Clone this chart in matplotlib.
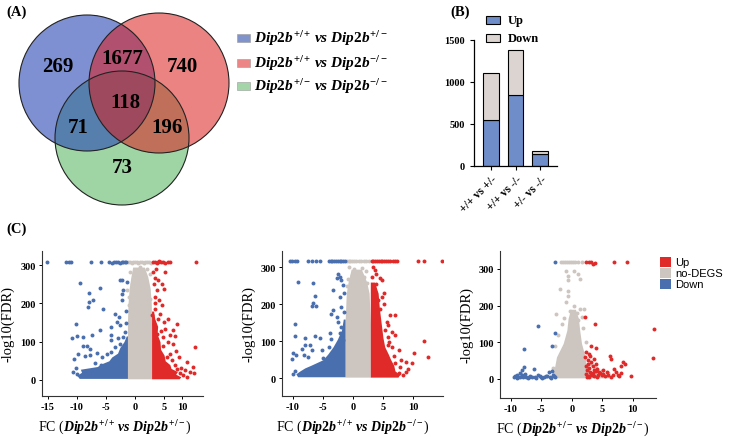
import matplotlib
matplotlib.use("Agg")
import matplotlib.pyplot as plt
from matplotlib.patches import Circle, Rectangle

plt.rcParams['font.family'] = ['Liberation Serif', 'DejaVu Serif']
plt.rcParams['font.weight'] = 'bold'
plt.rcParams['mathtext.fontset'] = 'custom'
plt.rcParams['mathtext.rm'] = 'Liberation Serif:weight=bold'
plt.rcParams['mathtext.bf'] = 'Liberation Serif:weight=bold'
plt.rcParams['mathtext.it'] = 'Liberation Serif:style=italic:weight=bold'

W, H = 731, 439

# ---- (A) Venn counts ----
venn_counts = {'269': (58, 67), '1677': (122, 59), '740': (182, 67), '118': (125, 103),
               '71': (78, 128), '196': (167, 128), '73': (122, 168)}
venn_labels = [r'$\mathit{Dip2b}^{+/+}\,\mathit{vs}\ \mathit{Dip2b}^{+/-}$',
               r'$\mathit{Dip2b}^{+/+}\,\mathit{vs}\ \mathit{Dip2b}^{-/-}$',
               r'$\mathit{Dip2b}^{+/-}\,\mathit{vs}\ \mathit{Dip2b}^{-/-}$']

# ---- (B) DEG counts ----
bar_cats = ['+/+ vs +/-', '+/+ vs -/-', '+/- vs -/-']
bar_up = [550, 840, 140]
bar_down = [560, 540, 40]

# ---- (C) volcano data: dense envelopes + sparse points ----
# plot 1
g1_y = [3, 150, 200, 240, 270, 295]
g1_l = [-1.3, -1.3, -1.2, -1.0, -0.7, -0.4]
g1_r = [2.85, 2.85, 2.8, 2.6, 2.2, 1.6]
u1_env_y = [3, 8, 15, 22, 30, 40, 50, 65, 80, 100, 120, 140, 160, 180]
u1_env_r = [7.6, 7.9, 7.0, 7.3, 6.2, 6.0, 5.2, 5.0, 4.4, 4.3, 3.8, 3.9, 3.4, 3.2]
d1_env_y = [4, 12, 20, 28, 35, 42, 50, 60, 70, 85, 100, 115]
d1_env_l = [-9.6, -10.0, -9.2, -9.4, -6.5, -5.8, -4.5, -4.0, -3.0, -2.6, -1.9, -1.5]
up1_x = [3.1, 3.4, 3.7, 3.9, 4.2, 4.5, 4.8, 5.2, 5.6, 6.0, 10.5,
         3.1, 5.2, 3.4, 4.0, 4.6, 5.0, 3.7, 3.4, 4.1, 4.6, 3.4, 4.3, 4.0, 5.0, 5.7, 7.2, 6.6, 5.2,
         6.0, 6.8, 4.9, 10.3, 6.6, 6.0, 5.5, 6.3, 8.9, 10.0, 8.6, 9.5, 10.2, 7.8, 8.0, 3.2, 3.5,
         3.3, 4.4, 5.6, 4.8, 7.0, 7.5, 6.8, 8.3, 9.0, 7.2, 3.8, 3.0, 3.6]
up1_y = [307, 308, 306, 309, 310, 307, 308, 306, 307, 308, 308,
         281, 281, 267, 260, 251, 238, 234, 217, 208, 195, 186, 173, 160, 152, 160, 147, 130, 134,
         117, 114, 112, 86, 95, 69, 60, 51, 47, 34, 25, 21, 17, 17, 30, 250, 200,
         145, 128, 100, 88, 75, 60, 40, 12, 8, 28, 120, 170, 290]
grey1_x = [-1.2, -0.9, -0.6, -0.3, 0.0, 0.3, 0.6, 0.9, 1.2, 1.5, 1.8, 2.1, 2.4, 2.7,
           -0.9, 0.0, 0.9, 2.0, 2.6, -0.6, 0.6, 1.4, 2.3, -1.0, -0.2, 1.1, 2.0, 0.9, 1.7, -0.3,
           -1.3, 0.3, 1.5, -0.7, 2.5, -1.1, 0.5, 1.9]
grey1_y = [307, 308, 306, 308, 307, 309, 306, 308, 307, 306, 308, 307, 309, 306,
           281, 285, 268, 290, 277, 251, 243, 256, 234, 217, 204, 217, 199, 295, 260, 264,
           234, 225, 191, 173, 212, 195, 272, 245]
down1_x = [-15.2, -11.8, -11.4, -11.0, -7.6, -5.9, -4.4, -4.0, -3.6, -3.2, -2.9, -2.6, -2.3, -2.0, -1.7, -1.5,
           -9.5, -7.9, -6.0, -7.9, -7.2, -8.0, -5.5, -2.6, -2.2, -1.4, -2.3, -2.3, -3.4, -2.8, -3.1, -2.6,
           -10.1, -6.0, -4.2, -10.9, -9.9, -9.0, -7.4, -4.2, -4.1, -8.9, -8.2, -7.7, -9.8, -10.5, -8.6,
           -7.7, -6.6, -5.6, -4.9, -4.2, -3.4, -2.6, -2.0, -1.7, -10.2, -10.6, -9.9, -6.8, -5.8, -3.0,
           -1.6, -1.5, -2.0]
down1_y = [307, 308, 308, 307, 308, 307, 308, 306, 307, 308, 307, 306, 308, 307, 308, 307,
           253, 228, 241, 204, 209, 191, 186, 260, 262, 257, 225, 208, 173, 165, 152, 143,
           145, 130, 138, 110, 114, 113, 117, 117, 104, 88, 88, 82, 69, 54, 62,
           64, 70, 60, 69, 73, 86, 95, 112, 125, 30, 22, 15, 45, 40, 110,
           180, 150, 235]

# plot 2
g2_y = [3, 150, 230, 260, 280, 295]
g2_l = [-1.3, -1.3, -1.1, -0.8, -0.5, -0.3]
g2_r = [2.9, 2.9, 2.7, 2.3, 1.8, 1.4]
u2_env_y = [3, 10, 20, 35, 50, 65, 85, 110, 150, 190, 230, 260]
u2_env_r = [7.5, 7.8, 7.0, 6.8, 6.3, 5.9, 5.3, 5.0, 4.7, 4.4, 4.2, 3.6]
d2_env_y = [4, 12, 20, 28, 35, 50, 65, 85, 105, 130, 160]
d2_env_l = [-9.2, -9.5, -8.8, -8.0, -7.0, -5.0, -4.2, -3.3, -2.6, -1.9, -1.6]
up2_x = [3.1, 3.4, 3.7, 4.0, 4.3, 4.6, 4.9, 5.2, 5.5, 5.8, 6.2, 6.6, 7.0, 7.3, 10.9, 11.8, 14.9,
         3.7, 3.9, 4.5, 4.8, 3.9, 5.1, 4.2, 3.7, 4.5, 6.2, 7.0, 5.6, 5.8, 5.3, 6.5, 5.8, 7.0, 11.8,
         5.9, 7.7, 10.1, 12.5, 8.9, 9.8, 7.0, 7.8, 8.9, 8.4, 7.6, 3.2, 3.5, 4.8, 5.2, 4.0, 6.0,
         6.8, 6.5, 8.0, 9.2, 3.3]
up2_y = [317, 318, 316, 317, 318, 317, 316, 317, 318, 317, 317, 316, 317, 318, 317, 317, 317,
         292, 283, 270, 265, 256, 230, 211, 198, 188, 171, 171, 153, 144, 130, 126, 112, 117, 101,
         89, 76, 68, 58, 44, 40, 40, 31, 17, 8, 13, 275, 245, 220, 200, 160, 98,
         60, 85, 50, 25, 300]
grey2_x = [-1.0, -0.7, -0.4, -0.1, 0.2, 0.6, 1.0, 1.4, 1.8, 2.2, 2.6,
           -0.6, 0.2, 1.5, 2.2, -0.2, 0.8, 1.8, -0.8, 0.4, 1.2, 2.4, -1.0, 0.0, 1.6, -0.4, 2.0]
grey2_y = [317, 318, 317, 316, 317, 318, 317, 316, 317, 318, 317,
           300, 295, 298, 290, 280, 283, 275, 268, 262, 265, 258, 250, 248, 245, 240, 238]
down2_x = [-10.5, -10.2, -9.7, -9.3, -7.4, -6.8, -6.1, -5.5, -4.0, -3.7, -3.4, -3.1, -2.8, -2.5, -2.2,
           -1.9, -1.6, -1.3,
           -9.1, -6.6, -6.3, -6.6, -6.8, -6.2, -2.4, -2.2, -1.9, -2.7, -1.6, -3.3, -2.1, -1.9, -3.3,
           -3.6, -9.7, -2.7, -2.4, -1.9, -9.7, -8.0, -6.3, -5.5, -3.8, -3.6, -2.2, -8.0, -7.2, -8.5,
           -6.8, -5.2, -10.0, -9.4, -10.2, -8.2, -7.4, -3.9, -3.3, -2.4, -1.6, -9.6, -9.9, -5.0,
           -4.5, -1.5, -1.4]
down2_y = [317, 318, 317, 316, 317, 318, 317, 316, 317, 318, 317, 316, 317, 318, 317,
           316, 317, 318,
           260, 257, 221, 203, 194, 194, 283, 274, 265, 270, 251, 238, 220, 193, 184,
           175, 146, 166, 152, 139, 114, 110, 114, 110, 121, 107, 121, 89, 89, 80,
           76, 76, 67, 63, 51, 63, 58, 85, 67, 85, 103, 20, 12, 55,
           45, 230, 180]

# plot 3
g3_y = [3, 10, 20, 33, 60, 97, 133, 165, 190]
g3_l = [-3.4, -3.3, -3.0, -2.8, -2.5, -1.4, -0.8, -0.6, -0.2]
g3_r = [6.8, 6.0, 3.2, 2.4, 2.2, 1.6, 1.3, 1.1, 0.6]
up3_x = [2.4, 2.8, 3.1, 3.8, 3.4, 7.0, 9.1, 2.2, 3.8, 13.5, 3.2, 3.9, 2.4, 2.9, 2.2, 2.6, 6.2, 6.5,
         13.3, 8.4, 8.7, 8.1, 7.0, 5.1, 7.6, 9.7, 4.6, 3.5, 2.4, 2.5, 2.8, 3.0, 3.3, 3.7, 4.0, 4.3,
         2.6, 3.1, 2.3, 3.5, 2.7, 4.9, 5.5, 6.0, 6.8, 7.8, 8.0, 3.0, 3.6, 4.2, 5.8,
         2.9, 3.2, 3.6, 4.1, 4.5, 2.5, 3.9, 5.2, 6.4, 7.2]
up3_y = [319, 319, 319, 316, 314, 319, 319, 169, 151, 137, 90, 85, 73, 69, 60, 51, 62, 54,
         57, 47, 42, 34, 28, 24, 11, 7, 15, 16, 14, 25, 30, 20, 10, 8, 22, 12,
         40, 45, 35, 35, 8, 10, 8, 12, 10, 8, 15, 62, 55, 28, 18,
         5, 14, 24, 6, 18, 5, 40, 14, 6, 18]
grey3_x = [-1.7, -1.4, -1.1, -0.8, -0.5, -0.2, 0.2, 0.6, 1.0, 1.6,
           -0.9, -0.6, -0.6, 0.4, 1.0, 1.3, -2.0, -0.6, -0.9, -2.5, 1.3, 2.0, -0.6, 0.8, -1.2,
           0.3, 1.6, -0.3, 1.0, -1.6, 1.9, -2.2, 2.4, -2.8, 3.2, 4.0, 5.0, 6.0, -3.0]
grey3_y = [319, 319, 319, 319, 319, 319, 319, 319, 319, 319,
           294, 282, 269, 294, 287, 273, 244, 241, 210, 178, 192, 192, 225, 180, 165,
           200, 170, 185, 160, 150, 140, 120, 100, 90, 40, 30, 22, 15, 30]
down3_x = [-2.8, -5.5, -2.8, -7.8, -3.2, -7.9, -8.2, -6.1, -8.5, -9.3, -8.8, -8.1, -5.5, -4.0, -3.3,
           -3.1, -9.5, -8.9, -7.5, -7.0, -6.5, -6.0, -5.0, -4.5, -3.6, -2.9, -8.0, -7.7, -3.8,
           -9.0, -8.4, -7.2, -6.8, -5.8, -5.2, -4.8, -4.2, -3.4, -2.7]
down3_y = [319, 144, 126, 83, 89, 33, 24, 27, 15, 7, 4, 10, 10, 7, 22,
           10, 5, 12, 6, 4, 5, 4, 5, 4, 5, 7, 5, 13, 20,
           3, 6, 3, 7, 3, 7, 3, 9, 3, 4]

RED, GREY, BLUE = '#e02a2a', '#cdc6c0', '#4a6fae'


def box(l, t, r, b):
    return [l / W, 1 - b / H, (r - l) / W, (b - t) / H]


fig = plt.figure(figsize=(W / 100, H / 100), dpi=100)

# ===== (A) Venn =====
ax_a = fig.add_axes(box(0, 0, 240, 220))
ax_a.set_xlim(0, 240); ax_a.set_ylim(220, 0); ax_a.axis('off')
circles = [((122, 139), 67, (80/255, 180/255, 90/255, 0.55)),
           ((87, 84), 68, (40/255, 70/255, 180/255, 0.6)),
           ((159, 84), 70, (220/255, 30/255, 30/255, 0.55))]
for c, r, col in circles:
    ax_a.add_patch(Circle(c, r, facecolor=col, edgecolor='none'))
for c, r, col in circles:
    ax_a.add_patch(Circle(c, r, fill=False, edgecolor='#222222', lw=0.8))
for txt, (x, y) in venn_counts.items():
    ax_a.text(x, y, txt, ha='center', va='center', fontsize=15, fontweight='bold')

leg_cols = ['#8193cb', '#ec8585', '#a3d5a8']
for i, (lab, col) in enumerate(zip(venn_labels, leg_cols)):
    yc = [39, 64, 87][i]
    fig.add_artist(Rectangle((237 / W, 1 - (yc + 4) / H), 13 / W, 8 / H, transform=fig.transFigure,
                             facecolor=col, edgecolor='#9a9a9a', lw=0.4))
    fig.text(254 / W, 1 - yc / H, lab, fontsize=11, va='center', ha='left')

# ===== (B) stacked bars =====
ax_b = fig.add_axes(box(474, 41, 557, 167))
xs = range(len(bar_cats))
ax_b.bar(xs, bar_up, width=0.65, color='#6f8dc8', edgecolor='black', lw=0.8)
ax_b.bar(xs, bar_down, bottom=bar_up, width=0.65, color='#dcd4d0', edgecolor='black', lw=0.8)
ax_b.set_xlim(-0.69, 2.69); ax_b.set_ylim(0, 1500)
ax_b.set_yticks([0, 500, 1000, 1500])
ax_b.set_xticks(list(xs))
ax_b.set_xticklabels(bar_cats, rotation=45, ha='right', rotation_mode='anchor', fontsize=8.5)
ax_b.tick_params(axis='y', labelsize=7.5, length=3, width=0.8)
ax_b.tick_params(axis='x', length=3, width=0.8, pad=2)
for s in ['top', 'right']:
    ax_b.spines[s].set_visible(False)
for s in ['left', 'bottom']:
    ax_b.spines[s].set_linewidth(0.9)
for i, (lab, col) in enumerate([('Up', '#6f8dc8'), ('Down', '#dcd4d0')]):
    yc = [21, 39][i]
    fig.add_artist(Rectangle((486 / W, 1 - (yc + 4) / H), 14 / W, 8 / H, transform=fig.transFigure,
                             facecolor=col, edgecolor='black', lw=0.8))
    fig.text(508 / W, 1 - yc / H, lab, fontsize=9, va='center', ha='left')

# ===== (C) volcano plots =====
def volcano(rect, xlim, ylim, xticks, xticklabels, xlab, xlab_x,
            grey_env, up_env, down_env, up, grey, down):
    ax = fig.add_axes(box(*rect))
    gy, gl, gr = grey_env
    ax.fill_betweenx(gy, gl, gr, color=GREY, lw=0)
    if up_env is not None:
        uy, ur = up_env
        ax.fill_betweenx(uy, [gr[0]] * len(uy), ur, color=RED, lw=0)
    if down_env is not None:
        dy, dl = down_env
        ax.fill_betweenx(dy, dl, [gl[0]] * len(dy), color=BLUE, lw=0)
    ax.scatter(grey[0], grey[1], s=8, c=GREY, linewidths=0)
    ax.scatter(up[0], up[1], s=8, c=RED, linewidths=0)
    ax.scatter(down[0], down[1], s=8, c=BLUE, linewidths=0)
    ax.set_xlim(*xlim); ax.set_ylim(*ylim)
    ax.set_yticks([0, 100, 200, 300])
    ax.set_xticks(xticks); ax.set_xticklabels(xticklabels)
    ax.tick_params(labelsize=7.5, length=2.5, width=0.7, pad=2)
    for s in ['top', 'right']:
        ax.spines[s].set_visible(False)
    for s in ['left', 'bottom']:
        ax.spines[s].set_linewidth(0.8); ax.spines[s].set_color('#333333')
    ax.set_ylabel('-log10(FDR)', fontsize=10.5)
    ax.yaxis.set_label_coords(-27 / (rect[2] - rect[0]), 0.5)
    ax.set_xlabel(xlab, fontsize=10, va='center')
    ax.xaxis.set_label_coords(xlab_x, -31 / (rect[3] - rect[1]))
    return ax


volcano((42, 252, 203, 397), (-16.0, 11.7), (-42, 337), [-15, -10, -5, 0, 5, 8.1],
        ['-15', '-10', '-5', '0', '5', '10'],
        r'FC ($\mathit{Dip2b}^{+/+}\,\mathit{vs}\ \mathit{Dip2b}^{+/-}$)', 0.45,
        (g1_y, g1_l, g1_r), (u1_env_y, u1_env_r), (d1_env_y, d1_env_l),
        (up1_x, up1_y), (grey1_x, grey1_y), (down1_x, down1_y))
volcano((282, 252, 443, 397), (-11.8, 15.0), (-48, 344), [-10, -5, 0, 5, 10],
        ['-10', '-5', '0', '5', '10'],
        r'FC ($\mathit{Dip2b}^{+/+}\,\mathit{vs}\ \mathit{Dip2b}^{-/-}$)', 0.44,
        (g2_y, g2_l, g2_r), (u2_env_y, u2_env_r), (d2_env_y, d2_env_l),
        (up2_x, up2_y), (grey2_x, grey2_y), (down2_x, down2_y))
volcano((500, 252, 656, 399), (-11.75, 13.8), (-52, 349), [-10, -5, 0, 5, 10],
        ['-10', '-5', '0', '5', '10'],
        r'FC ($\mathit{Dip2b}^{+/-}\,\mathit{vs}\ \mathit{Dip2b}^{-/-}$)', 0.47,
        (g3_y, g3_l, g3_r), None, None,
        (up3_x, up3_y), (grey3_x, grey3_y), (down3_x, down3_y))

# legend for (C)
for i, (lab, col) in enumerate([('Up', RED), ('no-DEGS', GREY), ('Down', BLUE)]):
    yc = [263, 274, 285][i]
    fig.add_artist(Rectangle((660 / W, 1 - (yc + 5) / H), 11 / W, 10 / H, transform=fig.transFigure,
                             facecolor=col, edgecolor='none'))
    fig.text(675 / W, 1 - yc / H, lab, fontsize=8, va='center', ha='left',
             family='Liberation Sans', fontweight='normal')

# panel letters
for lab, (x, y) in {'(A)': (6, 12), '(B)': (450, 12), '(C)': (6, 229)}.items():
    fig.text(x / W, 1 - y / H, lab, fontsize=10.5, fontweight='bold', va='center', ha='left')

fig.savefig('out.png', dpi=100)
